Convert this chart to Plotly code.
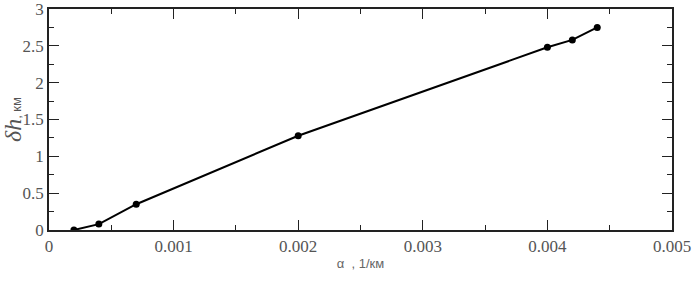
import plotly.graph_objects as go

alpha = [0.0002, 0.0004, 0.0007, 0.002, 0.004, 0.0042, 0.0044]
dh = [0.0, 0.08, 0.35, 1.28, 2.48, 2.58, 2.75]

x_ticks = [0, 0.001, 0.002, 0.003, 0.004, 0.005]
x_tick_text = ["0", "0.001", "0.002", "0.003", "0.004", "0.005"]
y_ticks = [0, 0.5, 1, 1.5, 2, 2.5, 3]
y_tick_text = ["0", "0.5", "1", "1.5", "2", "2.5", "3"]

SERIF = "Liberation Serif"

axis_common = dict(
    showgrid=False, zeroline=False, showline=True, linecolor="#222", linewidth=1.5,
    mirror="allticks", ticks="inside", ticklen=10, tickwidth=1.2, tickcolor="#222",
    tickfont=dict(family=SERIF, size=17, color="#555"),
    ticklabeloverflow="allow",
)

fig = go.Figure()
fig.add_trace(go.Scatter(
    x=alpha, y=dh, mode="lines+markers",
    line=dict(color="black", width=2),
    marker=dict(color="black", size=7),
    showlegend=False,
))

fig.update_layout(
    width=692, height=283,
    margin=dict(l=49, r=20, t=9, b=53, autoexpand=False),
    plot_bgcolor="white", paper_bgcolor="white",
    xaxis=dict(
        range=[0, 0.005], tickvals=x_ticks, ticktext=x_tick_text,
        minor=dict(tickvals=[0.0005, 0.0015, 0.0025, 0.0035, 0.0045], ticks="inside",
                   ticklen=5, tickcolor="#222", tickwidth=1.2),
        title=dict(text="α  , 1/км", font=dict(family="Liberation Sans", size=13, color="#666"),
                   standoff=4),
        automargin=False,
        **axis_common,
    ),
    yaxis=dict(
        range=[0, 3], tickvals=y_ticks, ticktext=y_tick_text,
        minor=dict(tickvals=[0.25, 0.75, 1.25, 1.75, 2.25, 2.75], ticks="inside",
                   ticklen=5, tickcolor="#222", tickwidth=1.2),
        title=dict(text="<i>δh</i><span style='font-family:Liberation Sans;font-size:13px'>, км</span>",
                   font=dict(family=SERIF, size=24, color="#555"), standoff=2),
        automargin=False,
        **axis_common,
    ),
)

fig.write_html("out.html", config={"displayModeBar": False},
               post_script="document.body.style.margin='0';")
